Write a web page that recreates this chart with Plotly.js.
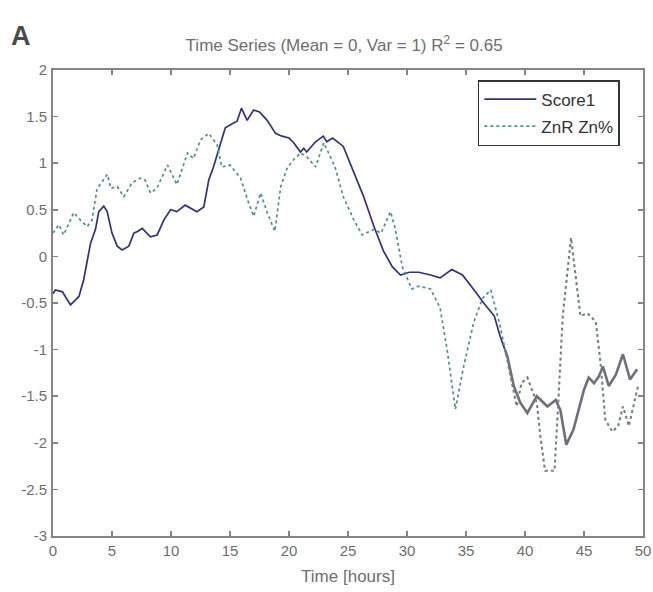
<!DOCTYPE html>
<html>
<head>
<meta charset="utf-8">
<script src="https://cdn.plot.ly/plotly-3.0.1.min.js"></script>
<style>html,body{margin:0;padding:0;background:#fff;}#chart{width:653px;height:592px;}</style>
</head>
<body>
<div id="chart"></div>
<script>
// Score1 (first part, dark blue)
const scoreTime = [0, 0.2, 0.5, 0.8, 1.48, 2.2, 2.6, 3.18, 3.6, 3.88, 4.3, 4.59, 5.0, 5.44, 5.86, 6.43, 6.85, 7.2, 7.56, 8.26, 8.83, 9.39, 9.96, 10.5, 11.2, 11.6, 12.2, 12.78, 13.2, 13.6, 14.2, 14.6, 15.3, 15.6, 15.97, 16.45, 17.0, 17.5, 18.15, 18.86, 19.4, 20.0, 20.4, 20.97, 21.25, 21.5, 22.25, 22.9, 23.2, 23.7, 24.6, 25.5, 26.3, 27.2, 28.0, 28.75, 29.45, 30.2, 31.0, 32.0, 32.8, 33.8, 34.7, 35.8, 36.5, 37.4, 37.9, 38.3];
const scoreValue = [-0.40, -0.36, -0.37, -0.38, -0.52, -0.43, -0.25, 0.14, 0.29, 0.48, 0.54, 0.48, 0.25, 0.11, 0.07, 0.11, 0.25, 0.27, 0.30, 0.21, 0.23, 0.39, 0.50, 0.48, 0.55, 0.52, 0.48, 0.53, 0.82, 0.96, 1.22, 1.38, 1.43, 1.45, 1.59, 1.46, 1.57, 1.55, 1.46, 1.32, 1.29, 1.27, 1.22, 1.12, 1.16, 1.12, 1.23, 1.29, 1.23, 1.27, 1.18, 0.89, 0.65, 0.32, 0.06, -0.11, -0.20, -0.17, -0.17, -0.20, -0.23, -0.14, -0.20, -0.38, -0.50, -0.64, -0.86, -1.00];
// Score1 (tail, grey)
const scoreTailTime = [38.3, 38.5, 39.05, 39.6, 40.2, 41.0, 41.9, 42.6, 43.0, 43.5, 44.1, 45.0, 45.4, 45.85, 46.25, 46.6, 47.1, 47.7, 48.3, 48.9, 49.5];
const scoreTailValue = [-1.00, -1.07, -1.39, -1.57, -1.68, -1.50, -1.61, -1.54, -1.65, -2.02, -1.86, -1.43, -1.30, -1.36, -1.29, -1.18, -1.39, -1.27, -1.05, -1.32, -1.21];
// ZnR Zn% (first part, teal)
const znTime = [0, 0.5, 0.9, 1.76, 2.33, 2.9, 3.3, 3.74, 4.17, 4.6, 4.9, 5.44, 6.0, 6.7, 7.4, 7.8, 8.26, 8.8, 9.7, 10.5, 11.4, 11.9, 12.5, 13.2, 13.9, 14.3, 15.0, 15.9, 16.45, 17.0, 17.6, 18.15, 18.8, 19.3, 19.85, 20.4, 20.97, 21.5, 22.25, 22.95, 23.9, 24.6, 25.5, 26.2, 27.2, 27.8, 28.6, 29.0, 29.6, 30.4, 31.0, 32.0, 32.8, 33.4, 34.1, 34.8, 35.65, 36.4, 37.1, 37.9, 38.6];
const znValue = [0.25, 0.34, 0.23, 0.47, 0.39, 0.32, 0.39, 0.73, 0.80, 0.88, 0.73, 0.75, 0.64, 0.79, 0.84, 0.82, 0.68, 0.73, 0.98, 0.77, 1.11, 1.05, 1.25, 1.32, 1.20, 0.96, 0.98, 0.84, 0.62, 0.43, 0.68, 0.47, 0.27, 0.75, 0.95, 1.04, 1.11, 1.07, 0.96, 1.22, 0.96, 0.64, 0.39, 0.23, 0.29, 0.25, 0.48, 0.30, -0.11, -0.35, -0.32, -0.35, -0.55, -1.00, -1.64, -1.18, -0.71, -0.45, -0.36, -0.75, -1.18];
// ZnR Zn% (tail, grey)
const znTailTime = [38.6, 39.3, 39.7, 40.2, 41.0, 41.3, 41.7, 42.5, 42.8, 43.2, 43.9, 44.7, 45.3, 46.0, 46.4, 46.8, 47.4, 47.9, 48.3, 48.8, 49.6];
const znTailValue = [-1.18, -1.61, -1.36, -1.30, -1.57, -1.93, -2.30, -2.30, -1.61, -0.64, 0.20, -0.64, -0.61, -0.70, -1.14, -1.75, -1.88, -1.82, -1.61, -1.82, -1.38];

const xTicks = [0, 5, 10, 15, 20, 25, 30, 35, 40, 45, 50];
const yTicks = [-3, -2.5, -2, -1.5, -1, -0.5, 0, 0.5, 1, 1.5, 2];

const FONT = 'Liberation Sans, Arial, sans-serif';

const traces = [
  {x: scoreTime, y: scoreValue, type: 'scatter', mode: 'lines', name: 'Score1',
   line: {color: '#2f327f', width: 1.7}, legendgroup: 's'},
  {x: scoreTailTime, y: scoreTailValue, type: 'scatter', mode: 'lines', name: 'Score1',
   line: {color: '#6f6f7c', width: 2.6}, showlegend: false, legendgroup: 's'},
  {x: znTime, y: znValue, type: 'scatter', mode: 'lines', name: 'ZnR Zn%',
   line: {color: '#4f9182', width: 1.7, dash: 'dot'}, legendgroup: 'z'},
  {x: znTailTime, y: znTailValue, type: 'scatter', mode: 'lines', name: 'ZnR Zn%',
   line: {color: '#75817f', width: 2.1, dash: 'dot'}, showlegend: false, legendgroup: 'z'}
];

const axisCommon = {
  showgrid: false, zeroline: false, showline: true, linecolor: '#858585', linewidth: 2,
  mirror: 'ticks', ticks: 'inside', ticklen: 5, tickwidth: 1.5, tickcolor: '#858585',
  tickfont: {family: FONT, size: 15, color: '#6e6e6e'}
};

const layout = {
  width: 653, height: 592,
  margin: {l: 53, r: 10, t: 70, b: 56},
  paper_bgcolor: '#fff', plot_bgcolor: '#fff',
  showlegend: true,
  title: {text: 'Time Series (Mean = 0, Var = 1) R<sup>2</sup> = 0.65',
          font: {family: FONT, size: 17, color: '#6e6e6e'},
          x: 0.527, xanchor: 'center', y: 0.924, yanchor: 'middle', yref: 'container'},
  xaxis: Object.assign({}, axisCommon, {range: [0, 50], tickvals: xTicks, ticktext: xTicks.map(String),
    title: {text: 'Time [hours]', standoff: 12, font: {family: FONT, size: 17, color: '#6e6e6e'}}}),
  yaxis: Object.assign({}, axisCommon, {range: [-3, 2], tickvals: yTicks, ticktext: yTicks.map(String), ticklabelstandoff: 1}),
  legend: {x: 0.72, y: 0.9785, xanchor: 'left', yanchor: 'top', bgcolor: '#fff',
           bordercolor: '#333', borderwidth: 1.5,
           font: {family: FONT, size: 17, color: '#333'},
           traceorder: 'grouped', tracegroupgap: 2, itemwidth: 52},
  annotations: [{text: '<b>A</b>', xref: 'paper', yref: 'paper', x: -0.055, y: 1.073,
                 xanchor: 'center', yanchor: 'middle', showarrow: false,
                 font: {family: FONT, size: 27, color: '#4a4a4a'}}]
};

Plotly.newPlot('chart', traces, layout, {displayModeBar: false, staticPlot: true});
</script>
</body>
</html>
